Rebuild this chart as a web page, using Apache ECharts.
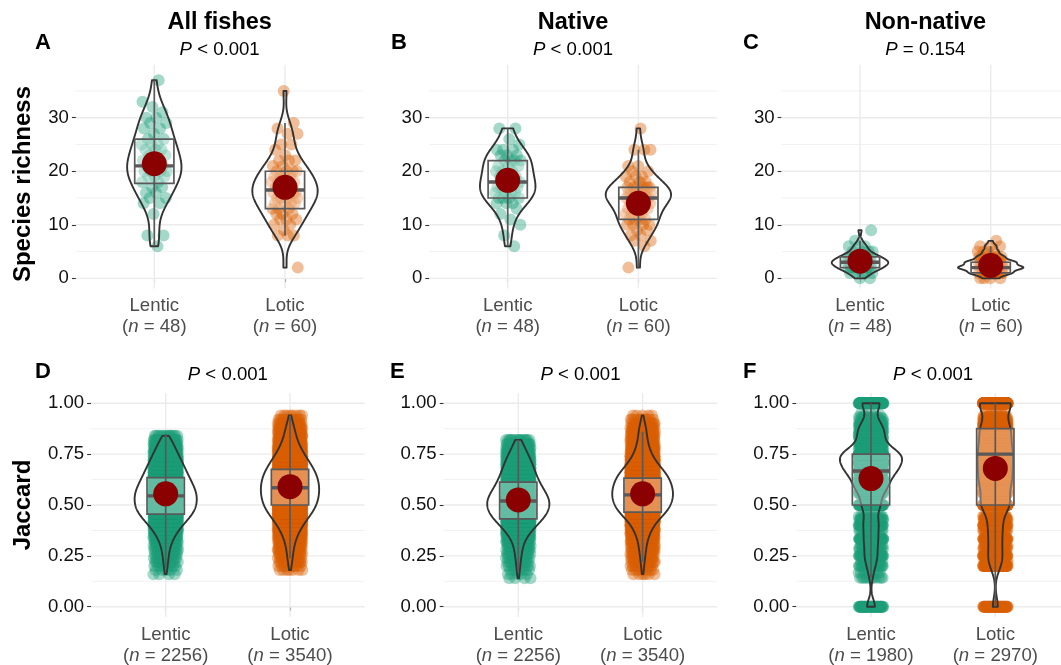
<!DOCTYPE html>
<html>
<head>
<meta charset="utf-8">
<title>Species richness and Jaccard similarity: lentic vs lotic</title>
<script src="https://cdn.jsdelivr.net/npm/echarts@6/dist/echarts.min.js"></script>
<style>
  html, body { margin: 0; padding: 0; background: #ffffff; }
  #chart { width: 1061px; height: 665px; }
</style>
</head>
<body>
<div id="chart"></div>
<script>
// ---------- data ----------
const groups = ['Lentic', 'Lotic'];
const panelTitles = ['All fishes', 'Native', 'Non-native'];
const panelTags = ['A', 'B', 'C', 'D', 'E', 'F'];
const pText = ['< 0.001', '< 0.001', '= 0.154', '< 0.001', '< 0.001', '< 0.001'];
const yTitles = ['Species richness', 'Jaccard'];

const richnessN = [48, 60];
const jaccardN = [[2256, 3540], [2256, 3540], [1980, 2970]];

const richnessTicks = [0, 10, 20, 30];
const richnessMinor = [5, 15, 25, 35];
const jaccardTicks = [0, 0.25, 0.5, 0.75, 1];
const jaccardMinor = [0.125, 0.375, 0.625, 0.875];

// species richness per site
const allLentic = [6, 8, 8, 12, 14, 14, 15, 15, 16, 16, 17, 17, 18, 18, 19, 19, 19, 20, 20, 20,
  20, 21, 21, 21, 21, 22, 22, 23, 23, 24, 24, 24, 25, 25, 25, 26, 26, 27, 28, 28,
  29, 29, 30, 30, 31, 32, 33, 37];
const allLotic = [2, 8, 8, 8, 9, 10, 10, 11, 11, 11, 12, 12, 12, 13, 13, 13, 14, 14, 14, 14,
  15, 15, 15, 15, 16, 16, 16, 16, 16, 16, 17, 17, 17, 17, 18, 18, 18, 18, 19, 19,
  19, 19, 20, 20, 20, 20, 21, 21, 22, 22, 22, 23, 24, 25, 25, 27, 27, 28, 29, 35];
const nativeLentic = [6, 8, 10, 11, 12, 13, 14, 14, 14, 15, 15, 15, 15, 16, 16, 16, 16, 17, 17, 17,
  17, 18, 18, 18, 18, 19, 19, 19, 20, 20, 20, 21, 21, 21, 22, 22, 22, 22, 23, 23,
  23, 24, 24, 24, 25, 26, 28, 28];
const nativeLotic = [2, 6, 7, 7, 8, 8, 9, 9, 10, 10, 10, 10, 11, 11, 11, 11, 12, 12, 12, 13,
  13, 13, 14, 14, 14, 14, 14, 15, 15, 15, 15, 15, 15, 16, 16, 16, 16, 16, 16, 16,
  17, 17, 17, 17, 17, 17, 18, 18, 18, 19, 19, 19, 20, 20, 21, 21, 24, 24, 24, 28];
// non-native richness: number of sites per richness value
const nonNativeValues = [0, 1, 2, 3, 4, 5, 6, 7, 8, 9];
const nonNativeLenticCounts = [2, 5, 10, 13, 9, 4, 3, 1, 0, 1];
const nonNativeLoticCounts = [4, 11, 17, 13, 7, 4, 3, 1, 0, 0];

// pairwise Jaccard similarity: number of site pairs per value
const jaccardBins = [0.14, 0.16, 0.18, 0.20, 0.22, 0.24, 0.26, 0.28, 0.30, 0.32, 0.34, 0.36, 0.38, 0.40,
  0.42, 0.44, 0.46, 0.48, 0.50, 0.52, 0.54, 0.56, 0.58, 0.60, 0.62, 0.64, 0.66, 0.68,
  0.70, 0.72, 0.74, 0.76, 0.78, 0.80, 0.82, 0.84, 0.86, 0.88, 0.90, 0.92, 0.94];
const jacAllLenticCounts = [0, 4, 6, 8, 10, 12, 14, 16, 21, 27, 35, 45, 57, 72, 86, 103, 117, 125, 130, 132,
  132, 130, 123, 115, 107, 98, 90, 82, 74, 66, 57, 49, 41, 33, 25, 14, 0, 0, 0, 0, 0];
const jacAllLoticCounts = [0, 0, 7, 10, 14, 17, 21, 24, 28, 35, 45, 55, 69, 86, 104, 124, 145, 162, 176, 183,
  190, 193, 193, 193, 186, 180, 169, 155, 138, 121, 104, 86, 73, 59, 48, 41, 35, 28, 21, 14, 8];
const jacNativeLenticCounts = [4, 5, 7, 9, 11, 13, 16, 18, 22, 29, 38, 52, 67, 85, 103, 121, 134, 140, 145, 145,
  137, 126, 115, 103, 94, 85, 79, 72, 65, 58, 49, 40, 31, 22, 16, 0, 0, 0, 0, 0, 0];
const jacNativeLoticCounts = [0, 6, 8, 11, 14, 18, 21, 25, 28, 35, 42, 53, 67, 85, 106, 134, 162, 187, 201, 212,
  219, 219, 215, 208, 197, 183, 162, 138, 113, 92, 74, 60, 49, 42, 35, 32, 28, 25, 18, 11, 5];
const nonNativeJaccardValues = [0, 0.143, 0.167, 0.2, 0.222, 0.25, 0.286, 0.3, 0.333, 0.375, 0.4, 0.429,
  0.444, 0.5, 0.556, 0.571, 0.6, 0.625, 0.636, 0.667, 0.692, 0.7, 0.714, 0.727, 0.75, 0.769,
  0.778, 0.8, 0.818, 0.833, 0.846, 0.857, 0.867, 0.875, 0.889, 0.9, 0.909, 0.917, 0.923,
  0.929, 0.933, 0.941, 0.95, 1];
const jacNonNativeLenticCounts = [60, 12, 8, 30, 10, 55, 25, 10, 70, 20, 55, 35, 15, 111, 55, 55, 105, 70, 15, 205,
  19, 65, 110, 40, 235, 10, 40, 60, 10, 55, 10, 45, 10, 30, 30, 25, 10, 10, 5, 5, 5, 3, 2, 125];
const jacNonNativeLoticCounts = [70, 0, 0, 80, 20, 90, 30, 25, 95, 30, 85, 45, 25, 300, 80, 70, 150, 90, 30, 200,
  25, 50, 80, 20, 200, 15, 55, 110, 25, 100, 15, 70, 0, 60, 70, 60, 25, 30, 10, 15, 10, 5, 5, 400];

// boxplot statistics [lower whisker, Q1, median, Q3, upper whisker] and group means
const allBox = [[6, 17.75, 21, 26, 37], [8, 13, 16.5, 20, 29]];
const nativeBox = [[6, 15, 18, 22, 28], [2, 11, 15, 17, 24]];
const nonNativeBox = [[0, 2, 3, 4, 7], [0, 1, 2, 3, 6]];
const jacAllBox = [[0.19, 0.455, 0.545, 0.635, 0.85], [0.24, 0.50, 0.585, 0.675, 0.94]];
const jacNativeBox = [[0.17, 0.432, 0.52, 0.612, 0.82], [0.22, 0.465, 0.55, 0.632, 0.86]];
const jacNonNativeBox = [[0.143, 0.5, 0.667, 0.75, 1], [0, 0.5, 0.75, 0.875, 1]];
const allMeans = [21.4, 17.0];
const nativeMeans = [18.3, 14.0];
const nonNativeMeans = [3.2, 2.4];
const jacAllMeans = [0.555, 0.59];
const jacNativeMeans = [0.525, 0.555];
const jacNonNativeMeans = [0.63, 0.68];

// ---------- helpers ----------
function expand(values, counts) {
  const out = [];
  values.forEach((v, i) => { for (let k = 0; k < counts[i]; k++) out.push(v); });
  return out;
}

// Gaussian kernel density (bw.nrd0), trimmed to the data range
function density(values) {
  const n = values.length;
  const s = values.slice().sort((a, b) => a - b);
  const mean = s.reduce((a, b) => a + b, 0) / n;
  const sd = Math.sqrt(s.reduce((a, b) => a + (b - mean) * (b - mean), 0) / (n - 1));
  const quant = p => {
    const h = (n - 1) * p, i = Math.floor(h);
    return s[i] + (h - i) * (s[Math.min(i + 1, n - 1)] - s[i]);
  };
  let lo = Math.min(sd, (quant(0.75) - quant(0.25)) / 1.34);
  if (!(lo > 0)) lo = sd || 1;
  const bw = 0.9 * lo * Math.pow(n, -0.2);
  const weights = new Map();
  s.forEach(v => weights.set(v, (weights.get(v) || 0) + 1));
  const ux = Array.from(weights.keys()), uw = Array.from(weights.values());
  const m = 256, a = s[0], b = s[n - 1], ys = [], ds = [];
  const norm = n * bw * Math.sqrt(2 * Math.PI);
  for (let k = 0; k < m; k++) {
    const y = a + (b - a) * k / (m - 1);
    let d = 0;
    for (let j = 0; j < ux.length; j++) {
      const z = (y - ux[j]) / bw;
      d += uw[j] * Math.exp(-0.5 * z * z);
    }
    ys.push(y);
    ds.push(d / norm);
  }
  return { ys, ds };
}

// ---------- layout ----------
const FONT = '"Liberation Sans", Arial, Helvetica, sans-serif';
const COLORS = ['#1b9e77', '#d95f02'];
const gridBoxes = [
  { left: 75.9, top: 64.7, width: 287.5, height: 223.8 },
  { left: 429.3, top: 64.7, width: 287.5, height: 223.8 },
  { left: 781.6, top: 64.7, width: 287.5, height: 223.8 },
  { left: 91.1, top: 393.1, width: 273.5, height: 223.8 },
  { left: 443.7, top: 393.1, width: 273.5, height: 223.8 },
  { left: 796.4, top: 393.1, width: 273.5, height: 223.8 }
];

const panels = [
  { data: [allLentic, allLotic], box: allBox, means: allMeans, n: richnessN, kind: 'richness' },
  { data: [nativeLentic, nativeLotic], box: nativeBox, means: nativeMeans, n: richnessN, kind: 'richness' },
  { data: [expand(nonNativeValues, nonNativeLenticCounts), expand(nonNativeValues, nonNativeLoticCounts)],
    box: nonNativeBox, means: nonNativeMeans, n: richnessN, kind: 'richness' },
  { data: [expand(jaccardBins, jacAllLenticCounts), expand(jaccardBins, jacAllLoticCounts)],
    box: jacAllBox, means: jacAllMeans, n: jaccardN[0], kind: 'jaccard' },
  { data: [expand(jaccardBins, jacNativeLenticCounts), expand(jaccardBins, jacNativeLoticCounts)],
    box: jacNativeBox, means: jacNativeMeans, n: jaccardN[1], kind: 'jaccard' },
  { data: [expand(nonNativeJaccardValues, jacNonNativeLenticCounts), expand(nonNativeJaccardValues, jacNonNativeLoticCounts)],
    box: jacNonNativeBox, means: jacNonNativeMeans, n: jaccardN[2], kind: 'jaccard' }
];

const VIOLIN_HALF = 0.25;   // half of violin width (x units)
const BOX_HALF = 0.15;      // half of box width (x units)
const JITTER = 0.1;         // horizontal jitter (x units)

const grids = [], xAxes = [], yAxes = [], series = [];

panels.forEach((p, pi) => {
  const g = gridBoxes[pi];
  grids.push({ left: g.left, top: g.top, width: g.width, height: g.height, containLabel: false, outerBoundsMode: 'none' });

  const isRich = p.kind === 'richness';
  const yTicks = isRich ? richnessTicks : jaccardTicks;
  const yMinor = isRich ? richnessMinor : jaccardMinor;

  const labelRich = {
    g: { fontSize: 18.6, color: '#4d4d4d', fontFamily: FONT, lineHeight: 21 },
    i: { fontSize: 18.6, color: '#4d4d4d', fontFamily: FONT, lineHeight: 21, fontStyle: 'italic' }
  };
  xAxes.push({
    type: 'value', gridIndex: pi, min: 0.4, max: 2.6,
    axisLine: { show: false },
    splitLine: { show: false },
    axisTick: { show: true, customValues: [1, 2], length: 4, lineStyle: { color: '#333333', width: 1.1 } },
    axisLabel: {
      customValues: [1, 2], margin: 7,
      formatter: v => {
        const gi = Math.round(v) - 1;
        return '{g|' + groups[gi] + '}\n{g|(}{i|n}{g| = ' + p.n[gi] + ')}';
      },
      rich: labelRich
    }
  });
  yAxes.push({
    type: 'value', gridIndex: pi,
    min: isRich ? -1.9 : -0.05, max: isRich ? 39.9 : 1.05,
    axisLine: { show: false },
    splitLine: { show: false },
    axisTick: { show: true, customValues: yTicks, length: 4, lineStyle: { color: '#333333', width: 1.1 } },
    axisLabel: {
      customValues: yTicks, margin: 7, fontSize: 18.6, color: '#111111', fontFamily: FONT,
      formatter: v => isRich ? String(v) : Number(v).toFixed(2)
    }
  });

  // panel grid lines
  const gridData = yTicks.map(v => [0, v]).concat(yMinor.map(v => [1, v]), [[2, 1], [2, 2]]);
  series.push({
    type: 'custom', xAxisIndex: pi, yAxisIndex: pi, z: 1, silent: true, animation: false,
    data: gridData, encode: { x: 0, y: 1 },
    renderItem: (params, api) => {
      const kind = api.value(0), v = api.value(1);
      const cs = params.coordSys;
      if (kind === 2) {
        const pt = api.coord([v, isRich ? 0 : 0.5]);
        return { type: 'line', shape: { x1: pt[0], y1: cs.y, x2: pt[0], y2: cs.y + cs.height },
          style: { stroke: '#ebebeb', lineWidth: 1.4 } };
      }
      const pt = api.coord([1, v]);
      return { type: 'line', shape: { x1: cs.x, y1: pt[1], x2: cs.x + cs.width, y2: pt[1] },
        style: { stroke: '#ebebeb', lineWidth: kind === 0 ? 1.4 : 0.7 } };
    }
  });

  // jittered observations
  p.data.forEach((vals, gi) => {
    series.push({
      type: 'scatter', xAxisIndex: pi, yAxisIndex: pi, z: 2, silent: true, animation: false,
      progressive: 0, large: false, symbol: 'circle', symbolSize: 12,
      itemStyle: { color: COLORS[gi], opacity: 0.4 },
      emphasis: { disabled: true },
      data: vals.map((v, i) => {
        const u = ((i + 1) * 0.6180339887498949 + gi * 0.37 + pi * 0.13) % 1;
        return [gi + 1 + (2 * u - 1) * JITTER, v];
      })
    });
  });

  // violins
  const prof = p.data.map(density);
  const maxD = Math.max(...prof.map(q => Math.max(...q.ds)));
  series.push({
    type: 'custom', xAxisIndex: pi, yAxisIndex: pi, z: 3, silent: true, animation: false,
    data: [[1, 0], [2, 1]], encode: { x: 0, y: 1 },
    renderItem: (params, api) => {
      const cx = api.value(0), q = prof[api.value(1)];
      const right = [], left = [];
      for (let k = 0; k < q.ys.length; k++) {
        const w = q.ds[k] / maxD * VIOLIN_HALF;
        right.push(api.coord([cx + w, q.ys[k]]));
        left.push(api.coord([cx - w, q.ys[k]]));
      }
      return { type: 'polygon', shape: { points: right.concat(left.reverse()) },
        style: { fill: 'none', stroke: '#333333', lineWidth: 1.9, lineJoin: 'round' } };
    }
  });

  // boxplots
  series.push({
    type: 'custom', xAxisIndex: pi, yAxisIndex: pi, z: 4, silent: true, animation: false,
    data: p.box.map((b, gi) => [gi + 1].concat(b)), encode: { x: 0, y: [1, 2, 3, 4, 5] },
    renderItem: (params, api) => {
      const x = api.value(0);
      const lw = api.value(1), q1 = api.value(2), med = api.value(3), q3 = api.value(4), uw = api.value(5);
      const tl = api.coord([x - BOX_HALF, q3]), br = api.coord([x + BOX_HALF, q1]);
      const top = api.coord([x, uw]), bot = api.coord([x, lw]);
      const ml = api.coord([x - BOX_HALF, med]), mr = api.coord([x + BOX_HALF, med]);
      const stroke = '#595959';
      return { type: 'group', children: [
        { type: 'rect', shape: { x: tl[0], y: tl[1], width: br[0] - tl[0], height: br[1] - tl[1] },
          style: { fill: 'rgba(255,255,255,0.32)', stroke: stroke, lineWidth: 1.7 } },
        { type: 'line', shape: { x1: top[0], y1: top[1], x2: bot[0], y2: bot[1] },
          style: { stroke: stroke, lineWidth: 1.7 } },
        { type: 'line', shape: { x1: ml[0], y1: ml[1], x2: mr[0], y2: mr[1] },
          style: { stroke: stroke, lineWidth: 3.4 } }
      ] };
    }
  });

  // group means
  series.push({
    type: 'scatter', xAxisIndex: pi, yAxisIndex: pi, z: 5, silent: true, animation: false,
    symbol: 'circle', symbolSize: 25, itemStyle: { color: '#8b0000', opacity: 1 },
    emphasis: { disabled: true },
    data: p.means.map((m, gi) => [gi + 1, m])
  });
});

// ---------- text ----------
const texts = [];
const centerX = i => gridBoxes[i].left + gridBoxes[i].width / 2;
const italicRich = size => ({
  i: { fontSize: size, fontFamily: FONT, fontStyle: 'italic', fill: '#000000' },
  r: { fontSize: size, fontFamily: FONT, fill: '#000000' }
});
function addText(txt, x, y, opts) {
  texts.push({
    type: 'text', x: x, y: y, rotation: opts.rotation || 0, silent: true,
    style: Object.assign({
      text: txt, fontFamily: FONT, fontSize: opts.size, fontWeight: opts.weight || 'normal',
      fill: '#000000', align: opts.align || 'center', verticalAlign: 'middle',
      textAlign: opts.align || 'center', textVerticalAlign: 'middle'
    }, opts.rich ? { rich: opts.rich } : {})
  });
}
panelTitles.forEach((t, i) => addText(t, centerX(i), 23, { size: 23.5, weight: 'bold' }));
pText.forEach((t, i) => addText('{i|P}{r| ' + t + '}', centerX(i), i < 3 ? 50 : 375,
  { size: 18.6, rich: italicRich(18.6) }));
const tagX = [35, 391, 743, 35, 390, 743];
panelTags.forEach((t, i) => addText(t, tagX[i], i < 3 ? 43 : 372, { size: 22, weight: 'bold', align: 'left' }));
addText(yTitles[0], 23, 184, { size: 24, weight: 'bold', rotation: Math.PI / 2 });
addText(yTitles[1], 23, 505, { size: 24, weight: 'bold', rotation: Math.PI / 2 });

const chart = echarts.init(document.getElementById('chart'), null, { renderer: 'canvas' });
chart.setOption({
  animation: false,
  backgroundColor: '#ffffff',
  grid: grids,
  xAxis: xAxes,
  yAxis: yAxes,
  series: series,
  graphic: { elements: texts }
});
</script>
</body>
</html>
